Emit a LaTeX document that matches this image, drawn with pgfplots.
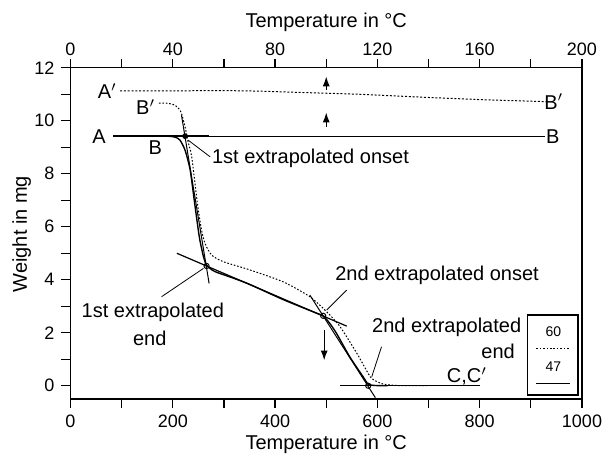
\documentclass[border=0pt]{standalone}
\usepackage{fontspec}
\setmainfont{Liberation Sans}
\usepackage{pgfplots}
\pgfplotsset{compat=1.18}
\usetikzlibrary{arrows.meta}
\begin{document}
\begin{tikzpicture}
\useasboundingbox (-35.25pt,-28pt) rectangle (268.25pt,199.5pt);
\pgfplotsset{
  common/.style={
    at={(0,0)}, anchor=south west,
    scale only axis, width=255.75pt, height=165.6pt,
    tick align=outside,
    major tick length=4.5pt, minor tick length=4.5pt,
    tick style={black, line width=0.6pt},
    axis line style={line width=0.6pt, -},
    /pgf/number format/assume math mode=true,
    /pgf/number format/1000 sep={},
    ticklabel style={font=\fontsize{9}{10}\selectfont},
    label style={font=\fontsize{10}{12}\selectfont},
  }
}
% top axis (temperature in the other scale)
\begin{axis}[common,
  xmin=0, xmax=200, ymin=0, ymax=1,
  axis x line*=top, axis y line=none,
  xtick={0,40,...,200}, minor xtick={20,60,...,180},
  xticklabel style={yshift=-2pt},
  xlabel={Temperature in °C},
  xlabel style={at={(axis description cs:0.5,1.138)}, anchor=center},
]
\end{axis}
\begin{axis}[common,
  xmin=0, xmax=1000, ymin=-0.5, ymax=12,
  xtick={0,200,...,1000}, minor xtick={100,300,...,900},
  ytick={0,2,...,12}, minor ytick={1,3,...,11},
  xtick pos=left, ytick pos=left,
  xlabel={Temperature in °C}, ylabel={Weight in mg},
  xlabel style={at={(axis description cs:0.5,-0.136)}, anchor=center},
  ylabel style={at={(axis description cs:-0.0954,0.498)}, anchor=center},
  clip=false,
]
% curve 60 (dotted), A'-B'
\addplot[black, line width=0.5pt, dash pattern=on 1pt off 0.9pt] coordinates {
 (97,11.13) (200,11.13) (300,11.14) (370,11.12) (450,11.07) (566,11.0) (700,10.88) (800,10.8) (931,10.72)};
\addplot[black, line width=0.5pt, dash pattern=on 0.8pt off 0.9pt, smooth, tension=0.4] coordinates {
 (173,10.67) (190,10.66) (204,10.59) (212,10.45) (217,10.28) (224,9.77) (230,9.2) (237,8.64) (248,6.9)
 (256,5.9) (263,5.37) (276,4.93) (299,4.68) (351,4.37) (416,3.92) (468,3.36) (501,2.79) (527,2.23)
 (560,1.22) (586,0.34) (600,0.15) (612,0.06) (638,0.01) (700,0)};
% curve 47 (solid), A-B
\addplot[black, line width=0.6pt] coordinates {(84,9.42) (928,9.42)};
\addplot[black, line width=1.2pt] coordinates {(84,9.42) (270,9.42)};
\addplot[black, line width=0.7pt, smooth, tension=0.4] coordinates {
 (150,9.42) (190,9.42) (205,9.38) (214,9.27) (224,8.89) (234,8.14) (243,6.85) (252,5.6) (260,4.87)
 (266,4.55) (276,4.38) (286,4.28) (320,4.05) (351,3.82) (416,3.25) (481,2.74) (494,2.64) (507,2.35)
 (520,1.98) (546,1.09) (572,0.34) (582,0.06) (595,0.01) (620,0)};
% tangents
\addplot[black, line width=0.5pt] coordinates {(217,10.21) (271,3.86)};
\addplot[black, line width=0.6pt] coordinates {(208,5.0) (540,2.25)};
\addplot[black, line width=0.5pt] coordinates {(468,3.42) (596,-0.45)};
\addplot[black, line width=0.7pt] coordinates {(526,0) (800,0)};
% extrapolated points
\addplot[black, only marks, mark=*, mark size=1.2pt] coordinates {(224,9.42)};
\addplot[black, only marks, mark=o, mark size=1.3pt, mark options={line width=0.5pt}] coordinates {(266,4.52) (494,2.64) (582,0.0)};
% leader lines
\draw[line width=0.4pt] (axis cs:230,9.27) -- (axis cs:273,8.64);
\draw[line width=0.4pt] (axis cs:178,3.36) -- (axis cs:260,4.43);
\draw[line width=0.4pt] (axis cs:501,2.86) -- (axis cs:540,3.61);
\draw[line width=0.4pt] (axis cs:608,1.47) -- (axis cs:589,0.34);
% arrows
\draw[line width=0.7pt, -{Latex[length=5pt,width=3.5pt]}] (axis cs:500,11.16) -- (axis cs:500,11.68);
\draw[line width=0.7pt, -{Latex[length=5pt,width=3.5pt]}] (axis cs:500,9.77) -- (axis cs:500,10.32);
\draw[line width=0.7pt, -{Latex[length=5pt,width=3.5pt]}] (axis cs:496,2.1) -- (axis cs:496,0.95);
% labels
\begin{scope}[every node/.style={font=\fontsize{10}{12}\selectfont, inner sep=0pt}]
\node at (axis cs:72,11.13) {A$'$};
\node at (axis cs:147,10.53) {B$'$};
\node at (axis cs:56,9.4) {A};
\node at (axis cs:166,9.0) {B};
\node at (axis cs:943,9.42) {B};
\node at (axis cs:945,10.72) {B$'$};
\node[anchor=west] at (axis cs:276,8.57) {1st extrapolated onset};
\node at (axis cs:161,2.78) {1st extrapolated};
\node at (axis cs:155,1.78) {end};
\node[anchor=west] at (axis cs:517,4.17) {2nd extrapolated onset};
\node[anchor=west] at (axis cs:589,2.22) {2nd extrapolated};
\node at (axis cs:836,1.28) {end};
\node at (axis cs:775,0.34) {C,C$'$};
\end{scope}
% legend box
\draw[line width=0.6pt] (axis cs:894,2.67) rectangle (axis cs:992,-0.35);
\node[font=\fontsize{7}{8}\selectfont] at (axis cs:944,2.04) {60};
\draw[line width=0.5pt, dash pattern=on 0.8pt off 0.9pt] (axis cs:911,1.41) -- (axis cs:977,1.41);
\node[font=\fontsize{7}{8}\selectfont] at (axis cs:944,0.72) {47};
\draw[line width=0.6pt] (axis cs:911,0.09) -- (axis cs:977,0.09);
\end{axis}
\end{tikzpicture}
\end{document}
